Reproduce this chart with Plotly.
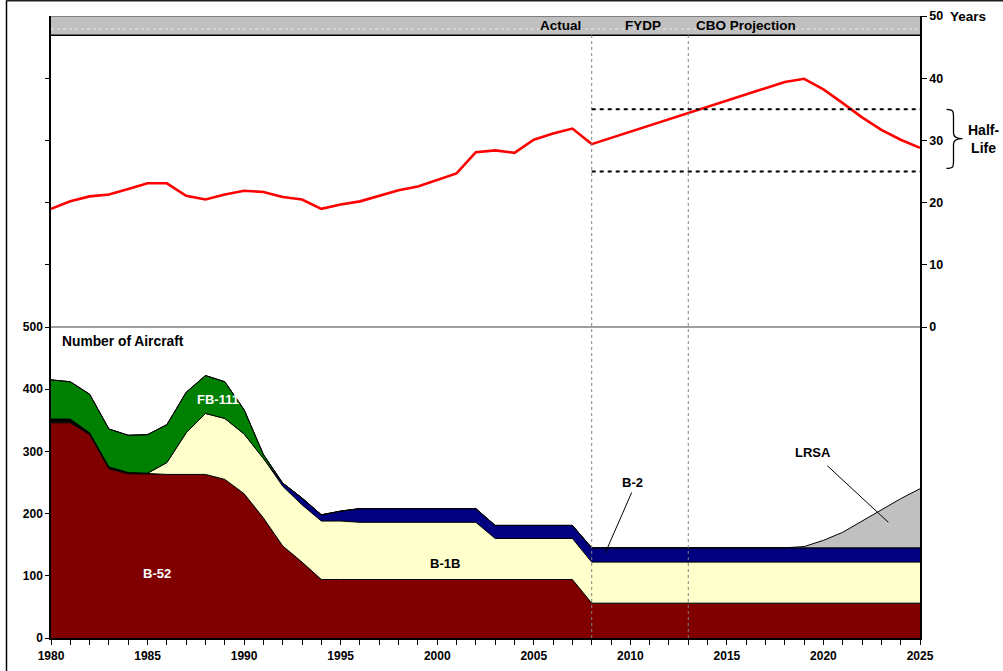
import plotly.graph_objects as go

years = list(range(1980, 2026))

b52 = [346, 346, 327, 272, 264, 264, 263, 263, 263, 255, 232, 193, 148, 122] + [94] * 14 + [56] * 18
other = [6, 6, 3, 3, 2] + [0] * 41
b1b = [0] * 5 + [1, 19, 67, 98, 98, 96, 96, 96, 92, 94, 94] + [92] * 7 + [66] * 23
b2 = [0] * 12 + [5, 11, 10, 16] + [22] * 7 + [21] * 5 + [23] * 18
fb111 = [63, 60, 62, 61, 60, 62, 61, 65, 61, 59, 39, 6] + [0] * 34
lrsa = [0] * 39 + [2, 12, 25, 43, 62, 79, 95]

avg_age = [19.0, 20.2, 21.0, 21.3, 22.2, 23.1, 23.1, 21.1, 20.5, 21.3,
           21.9, 21.7, 20.9, 20.5, 19.0, 19.7, 20.2, 21.1, 22.0, 22.6,
           23.6, 24.7, 28.1, 28.4, 28.0, 30.1, 31.1, 31.9, 29.4, 30.4,
           31.4, 32.4, 33.4, 34.4, 35.3, 36.3, 37.3, 38.4, 39.4, 39.9,
           38.2, 36.0, 33.7, 31.7, 30.1, 28.8]

left_ticks = [0, 100, 200, 300, 400, 500, 600, 700, 800, 900]
left_labels = ["0", "100", "200", "300", "400", "500", "", "", "", ""]
right_ticks = [0, 10, 20, 30, 40, 50]
right_labels = ["0", "10", "20", "30", "40", "50"]
x_ticks = [1980, 1985, 1990, 1995, 2000, 2005, 2010, 2015, 2020, 2025]

FONT = "Arial, Liberation Sans, sans-serif"

series = [
    ("B-52", b52, "#800000"),
    ("Other", other, "#000000"),
    ("B-1B", b1b, "#FFFFCC"),
    ("B-2", b2, "#000080"),
    ("FB-111", fb111, "#008000"),
    ("LRSA", lrsa, "#C0C0C0"),
]

fig = go.Figure()
for name, vals, col in series:
    fig.add_trace(go.Scatter(
        x=years, y=vals, name=name, stackgroup="fleet", mode="lines",
        line=dict(color="#000000", width=1), fillcolor=col,
        hoverinfo="x+y+name"))

fig.add_trace(go.Scatter(
    x=years, y=avg_age, name="Average Age", yaxis="y2", mode="lines",
    line=dict(color="#FF0000", width=2.6)))

shapes = []
# header band
shapes.append(dict(type="rect", xref="paper", yref="y", x0=0, x1=1, y0=969, y1=1000,
                   fillcolor="#C0C0C0", line=dict(width=0), layer="above"))
shapes.append(dict(type="line", xref="paper", yref="y", x0=0, x1=1, y0=979, y1=979,
                   line=dict(color="#E6E6E6", width=1, dash="dot"), layer="above"))
shapes.append(dict(type="line", xref="paper", yref="y", x0=0, x1=1, y0=1000, y1=1000,
                   line=dict(color="#404040", width=1), layer="above"))
shapes.append(dict(type="line", xref="paper", yref="y", x0=0, x1=1, y0=969, y1=969,
                   line=dict(color="#000000", width=1.5), layer="above"))
# divider between panels
shapes.append(dict(type="line", xref="paper", yref="y", x0=0, x1=1, y0=500, y1=500,
                   line=dict(color="#404040", width=1), layer="above"))
# period separators
for xv in (2008, 2013):
    shapes.append(dict(type="line", xref="x", yref="y", x0=xv, x1=xv, y0=0, y1=969,
                       line=dict(color="#808080", width=1, dash="dot"), layer="above"))
# half-life band
for yv in (35, 25):
    shapes.append(dict(type="line", xref="x", yref="y2", x0=2008, x1=2025, y0=yv, y1=yv,
                       line=dict(color="#000000", width=2, dash="4px,4px"), layer="above"))
# pointers
shapes.append(dict(type="line", xref="x", yref="y", x0=2010.07, y0=234, x1=2008.69, y1=136,
                   line=dict(color="#000000", width=1), layer="above"))
shapes.append(dict(type="line", xref="x", yref="y", x0=2020.2, y0=277, x1=2023.36, y1=186,
                   line=dict(color="#000000", width=1), layer="above"))

# brace (paper x, y2 units)
W = 869.0
def px(p):
    return (p - 51) / W
xl, xs, xt = px(946.5), px(953.5), px(962.5)
brace = (f"M {xl},35 C {xs},35 {xs},34.6 {xs},33.8 L {xs},31.2 "
         f"C {xs},30.6 {px(956)},30.3 {xt},30.3 "
         f"C {px(956)},30.3 {xs},30.0 {xs},29.4 L {xs},26.6 "
         f"C {xs},25.8 {xs},25.5 {xl},25.5")
shapes.append(dict(type="path", xref="paper", yref="y2", path=brace,
                   line=dict(color="#000000", width=1.3), layer="above"))

# outer frame
shapes.append(dict(type="line", xref="paper", yref="paper", x0=px(6.5), x1=px(1010),
                   y0=1 + 15.2 / 622, y1=1 + 15.2 / 622, line=dict(color="#202020", width=1.5)))
shapes.append(dict(type="line", xref="paper", yref="paper", x0=px(6.5), x1=px(6.5),
                   y0=1 + 15.5 / 622, y1=-40 / 622, line=dict(color="#000000", width=1.5)))

def ann(text, x, y, color="#000000", size=13, xref="x", yref="y", xanchor="center"):
    return dict(text=f"<b>{text}</b>", x=x, y=y, xref=xref, yref=yref, showarrow=False,
                xanchor=xanchor, yanchor="middle",
                font=dict(family=FONT, size=size, color=color))

annotations = [
    ann("FB-111", 1988.65, 383, color="#FFFFFF"),
    ann("B-52", 1985.47, 103, color="#FFFFFF"),
    ann("B-1B", 2000.4, 120),
    ann("B-2", 2010.1, 250),
    ann("LRSA", 2019.48, 298.5),
    ann("Number of Aircraft", 1980.45, 476, xanchor="left", size=13.8),
    ann("Actual", 2006.4, 985, size=13.5),
    ann("FYDP", 2010.67, 985, size=13.5),
    ann("CBO Projection", 2016.0, 985, size=13.5),
    ann("Half-<br>Life", px(983.5), 30.3, xref="paper", yref="y2", size=14),
    ann("Years", px(947.5), 50, xref="paper", yref="y2", size=13.5, xanchor="left"),
]

fig.update_layout(
    template="none",
    width=1003, height=671,
    margin=dict(l=51, r=83, t=16, b=33, autoexpand=False),
    paper_bgcolor="#FFFFFF", plot_bgcolor="#FFFFFF",
    showlegend=False,
    font=dict(family=FONT, size=12, color="#000000"),
    xaxis=dict(range=[1980, 2025], tickvals=x_ticks, ticks="outside", ticklen=5,
               tickwidth=1, tickcolor="#000000", showline=True, linecolor="#000000",
               linewidth=1.5, showgrid=False, zeroline=False, ticklabelstandoff=1,
               automargin=False,
               minor=dict(dtick=1, ticks="outside", ticklen=5, tickcolor="#000000", showgrid=False),
               tickfont=dict(family=FONT, size=12, weight="bold")),
    yaxis=dict(range=[0, 1000], tickvals=left_ticks, ticktext=left_labels, ticks="outside",
               ticklen=4, tickcolor="#000000", showline=True, linecolor="#000000",
               linewidth=1.5, showgrid=False, zeroline=False, automargin=False,
               tickfont=dict(family=FONT, size=12, weight="bold")),
    yaxis2=dict(range=[-50, 50], overlaying="y", side="right", tickvals=right_ticks,
                ticktext=right_labels, ticks="outside", ticklen=5, tickcolor="#000000",
                showline=True, linecolor="#000000", linewidth=1.5, showgrid=False,
                zeroline=False, automargin=False,
                tickfont=dict(family=FONT, size=12.5, weight="bold")),
    shapes=shapes,
    annotations=annotations,
)

fig.write_html("out.html", config={"displayModeBar": False},
               post_script="document.body.style.margin='0';")
